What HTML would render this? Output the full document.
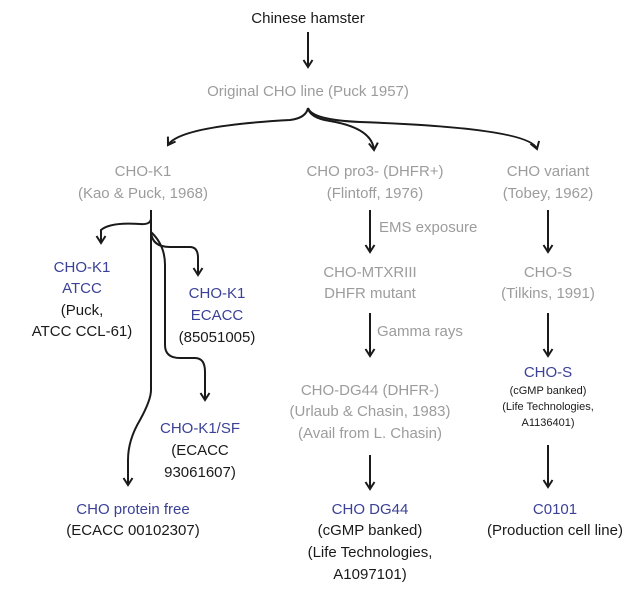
<!DOCTYPE html>
<html><head><meta charset="utf-8"><style>
html,body{margin:0;padding:0;background:#fff;}
svg{display:block;}
text{font-family:"Liberation Sans",Arial,sans-serif;font-size:15px;text-anchor:middle;}
.g{fill:#9c9c9c;} .b{fill:#3b4197;} .k{fill:#1a1a1a;} .s{font-size:11px;}
path{fill:none;stroke:#1a1a1a;stroke-width:2;}
</style></head><body>
<svg width="642" height="597" viewBox="0 0 642 597">
<defs><marker id="a" markerWidth="12" markerHeight="12" refX="9" refY="6" orient="auto" markerUnits="userSpaceOnUse" viewBox="0 0 12 12">
<path d="M2,1.5 L9,6 L2,10.5" style="stroke-width:2;fill:none"/></marker></defs>
<text class="k" x="308" y="23">Chinese hamster</text>
<path d="M308,32 V67" marker-end="url(#a)"/>
<text class="g" x="308" y="96">Original CHO line (Puck 1957)</text>
<path d="M308,108 Q306,118 290,120 Q180,126 168,145" marker-end="url(#a)"/>
<path d="M308,108 Q310,118 330,121 Q372,128 374,150" marker-end="url(#a)"/>
<path d="M308,108 Q312,120 360,122 Q530,128 537,149" marker-end="url(#a)"/>
<text class="g" x="143" y="176">CHO-K1</text>
<text class="g" x="143" y="198">(Kao &amp; Puck, 1968)</text>
<text class="g" x="375" y="176">CHO pro3- (DHFR+)</text>
<text class="g" x="375" y="198">(Flintoff, 1976)</text>
<text class="g" x="548" y="176">CHO variant</text>
<text class="g" x="548" y="198">(Tobey, 1962)</text>
<path d="M151,210 V390 Q151,400 140,420 Q128,440 128,460 V485" marker-end="url(#a)"/>
<path d="M151,218 Q151,225 140,224 Q110,222 101,230 V243" marker-end="url(#a)"/>
<path d="M151,232 Q152,247 170,247 H190 Q198,247 198,258 V275" marker-end="url(#a)"/>
<path d="M151,232 Q165,245 165,265 V345 Q165,358 180,358 H195 Q205,358 205,372 V400" marker-end="url(#a)"/>
<text class="b" x="82" y="272">CHO-K1</text>
<text class="b" x="82" y="293">ATCC</text>
<text class="k" x="82" y="315">(Puck,</text>
<text class="k" x="82" y="336">ATCC CCL-61)</text>
<text class="b" x="217" y="298">CHO-K1</text>
<text class="b" x="217" y="320">ECACC</text>
<text class="k" x="217" y="342">(85051005)</text>
<text class="b" x="200" y="433">CHO-K1/SF</text>
<text class="k" x="200" y="455">(ECACC</text>
<text class="k" x="200" y="477">93061607)</text>
<text class="b" x="133" y="514">CHO protein free</text>
<text class="k" x="133" y="535">(ECACC 00102307)</text>
<path d="M370,210 V252" marker-end="url(#a)"/>
<text class="g" x="379" y="232" style="text-anchor:start">EMS exposure</text>
<text class="g" x="370" y="277">CHO-MTXRIII</text>
<text class="g" x="370" y="298">DHFR mutant</text>
<path d="M370,313 V356" marker-end="url(#a)"/>
<text class="g" x="377" y="336" style="text-anchor:start">Gamma rays</text>
<text class="g" x="370" y="395">CHO-DG44 (DHFR-)</text>
<text class="g" x="370" y="416">(Urlaub &amp; Chasin, 1983)</text>
<text class="g" x="370" y="438">(Avail from L. Chasin)</text>
<path d="M370,455 V489" marker-end="url(#a)"/>
<text class="b" x="370" y="514">CHO DG44</text>
<text class="k" x="370" y="535">(cGMP banked)</text>
<text class="k" x="370" y="557">(Life Technologies,</text>
<text class="k" x="370" y="579">A1097101)</text>
<path d="M548,210 V252" marker-end="url(#a)"/>
<text class="g" x="548" y="277">CHO-S</text>
<text class="g" x="548" y="298">(Tilkins, 1991)</text>
<path d="M548,313 V356" marker-end="url(#a)"/>
<text class="b" x="548" y="377">CHO-S</text>
<text class="k s" x="548" y="394">(cGMP banked)</text>
<text class="k s" x="548" y="410">(Life Technologies,</text>
<text class="k s" x="548" y="426">A1136401)</text>
<path d="M548,445 V487" marker-end="url(#a)"/>
<text class="b" x="555" y="514">C0101</text>
<text class="k" x="555" y="535">(Production cell line)</text>
</svg>
</body></html>
